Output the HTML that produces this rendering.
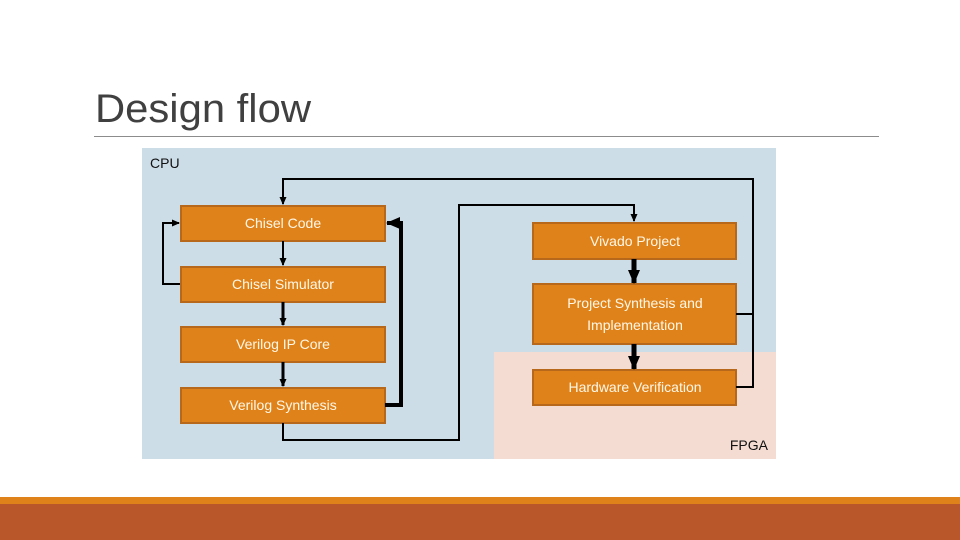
<!DOCTYPE html>
<html><head><meta charset="utf-8"><style>
html,body{margin:0;padding:0;background:#fff;}
body{width:960px;height:540px;overflow:hidden;position:relative;font-family:"Liberation Sans",sans-serif;}
</style></head><body>
<svg width="960" height="540" viewBox="0 0 960 540" xmlns="http://www.w3.org/2000/svg" style="position:absolute;left:0;top:0">
<defs>
<marker id="a" markerWidth="8" markerHeight="8" refX="7" refY="4" orient="auto" markerUnits="userSpaceOnUse"><path d="M0,0.5 L8,4 L0,7.5 Z" fill="#000"/></marker>
<marker id="b" markerWidth="14" markerHeight="12" refX="13" refY="6" orient="auto" markerUnits="userSpaceOnUse"><path d="M0,0 L14,6 L0,12 Z" fill="#000"/></marker>
</defs>
<text x="95" y="122" font-family="Liberation Sans, sans-serif" font-size="40" fill="#404040" textLength="216" lengthAdjust="spacingAndGlyphs">Design flow</text>
<line x1="94" y1="136.5" x2="879" y2="136.5" stroke="#8c8c8c" stroke-width="1"/>
<rect x="142" y="148" width="634" height="311" fill="#cddde8"/>
<rect x="494" y="352" width="282" height="107" fill="#f4dcd3"/>
<text x="150" y="168" font-size="14" fill="#111">CPU</text>
<text x="768" y="450" font-size="14" fill="#111" text-anchor="end">FPGA</text>
<g fill="#e0821a" stroke="#b8681a" stroke-width="2">
<rect x="181" y="206" width="204" height="35"/>
<rect x="181" y="267" width="204" height="35"/>
<rect x="181" y="327" width="204" height="35"/>
<rect x="181" y="388" width="204" height="35"/>
<rect x="533" y="223" width="203" height="36"/>
<rect x="533" y="284" width="203" height="60"/>
<rect x="533" y="370" width="203" height="35"/>
</g>
<g fill="#fff8e8" font-size="14" text-anchor="middle">
<text x="283" y="228">Chisel Code</text>
<text x="283" y="289">Chisel Simulator</text>
<text x="283" y="349">Verilog IP Core</text>
<text x="283" y="410">Verilog Synthesis</text>
<text x="635" y="246">Vivado Project</text>
<text x="635" y="308">Project Synthesis and</text>
<text x="635" y="330">Implementation</text>
<text x="635" y="392">Hardware Verification</text>
</g>
<g fill="none" stroke="#000" stroke-width="2">
<path d="M283,241 V265" marker-end="url(#a)"/>
<path d="M283,302 V325" stroke-width="3" marker-end="url(#a)"/>
<path d="M283,362 V386" stroke-width="3" marker-end="url(#a)"/>
<path d="M180,284 H163 V223 H179" marker-end="url(#a)"/>
<path d="M385,405 H401 V223 H387" stroke-width="4" marker-end="url(#b)"/>
<path d="M283,423 V440 H459 V205 H634 V221" marker-end="url(#a)"/>
<path d="M736,314 H753"/>
<path d="M736,387 H753 V179 H283 V204" marker-end="url(#a)"/>
<path d="M634,259 V283" stroke-width="5" marker-end="url(#b)"/>
<path d="M634,344 V369" stroke-width="5" marker-end="url(#b)"/>
</g>
<rect x="0" y="497" width="960" height="7" fill="#e0821a"/>
<rect x="0" y="504" width="960" height="36" fill="#b9572a"/>
</svg>
</body></html>
